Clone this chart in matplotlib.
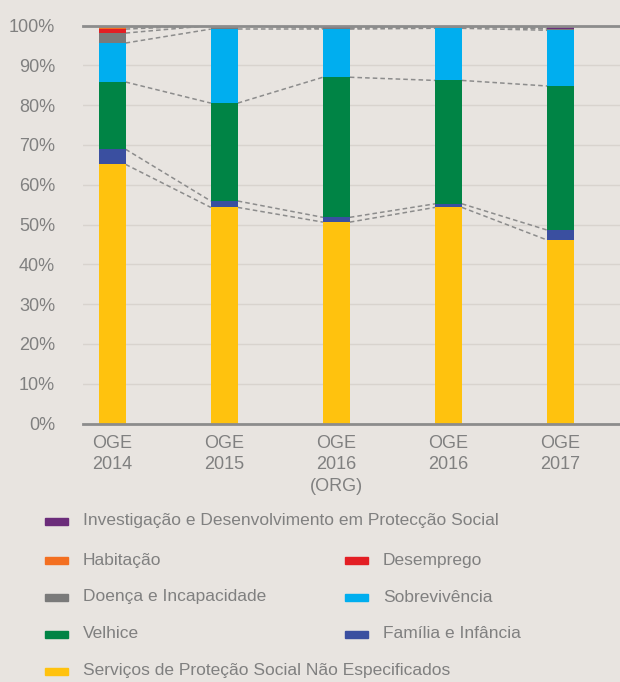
import matplotlib.pyplot as plt
import numpy as np
from matplotlib.patches import Rectangle

plt.rcParams['font.family'] = ['Liberation Sans', 'DejaVu Sans']

# categories (x axis)
anos = ['OGE\n2014', 'OGE\n2015', 'OGE\n2016\n(ORG)', 'OGE\n2016', 'OGE\n2017']

# shares in %, stacked bottom to top
servicos = [65.1, 54.3, 50.6, 54.3, 46.1]
familia = [3.8, 1.6, 1.2, 0.9, 2.5]
velhice = [16.9, 24.6, 35.2, 31.0, 36.2]
sobrevivencia = [9.8, 18.6, 12.1, 13.1, 14.0]
doenca = [2.5, 0.9, 0.3, 0.4, 0.4]
desemprego = [1.0, 0.0, 0.0, 0.3, 0.0]
habitacao = [0.6, 0.0, 0.0, 0.0, 0.0]
investigacao = [0.3, 0.0, 0.6, 0.0, 0.8]

nomes = ['Serviços de Proteção Social Não Especificados', 'Família e Infância', 'Velhice',
         'Sobrevivência', 'Doença e Incapacidade', 'Desemprego', 'Habitação',
         'Investigação e Desenvolvimento em Protecção Social']
cores = ['#FFC20E', '#3A4FA0', '#008445', '#00AEEF', '#7A7A7A', '#E31E24', '#F36F21', '#6B2C7A']
series = [servicos, familia, velhice, sobrevivencia, doenca, desemprego, habitacao, investigacao]

fundo = '#E8E4E0'
texto = '#808080'

fig = plt.figure(figsize=(6.2, 6.82), dpi=100, facecolor=fundo)
ax = fig.add_axes([83 / 620, 1 - 423.5 / 682, 537 / 620, 398 / 682])
ax.set_facecolor(fundo)

dados = np.array(series, dtype=float)
dados = dados / dados.sum(axis=0) * 100
x = np.arange(len(anos))
w = 0.24
base = np.zeros(len(anos))
for vals, cor in zip(dados, cores):
    ax.bar(x, vals, w, bottom=base, color=cor, zorder=3)
    topo = base + vals
    # series lines between bars
    for j in range(len(anos) - 1):
        ax.plot([x[j] + w / 2, x[j + 1] - w / 2], [topo[j], topo[j + 1]],
                color='#8C8C8C', ls=(0, (3, 2)), lw=1.1, zorder=2)
    base = topo

ax.set_xlim(-0.26, 4.53)
ax.set_ylim(0, 100)
ax.set_yticks(np.arange(0, 101, 10))
ax.set_yticklabels([f'{v}%' for v in range(0, 101, 10)])
ax.set_xticks(x)
ax.set_xticklabels(anos, linespacing=1.35)
ax.tick_params(axis='y', length=0, pad=20, labelsize=13, labelcolor=texto)
ax.tick_params(axis='x', length=0, pad=8, labelsize=13, labelcolor=texto)
ax.grid(axis='y', color='#D8D3CE', lw=1, zorder=0)
for s in ['left', 'right']:
    ax.spines[s].set_visible(False)
for s in ['top', 'bottom']:
    ax.spines[s].set_color('#8C8C8C')
    ax.spines[s].set_linewidth(2)
    ax.spines[s].set_zorder(4)

# legend drawn by hand
linhas = [(7, None), (6, 5), (4, 3), (2, 1), (0, None)]
ys = [521, 560, 597, 634, 671]
for (a, b), yy in zip(linhas, ys):
    for k, xm in ((a, 45), (b, 345)):
        if k is None:
            continue
        fig.patches.append(Rectangle((xm / 620, 1 - (yy + 4) / 682), 23 / 620, 7 / 682,
                                     transform=fig.transFigure, color=cores[k]))
        fig.text((xm + 38) / 620, 1 - yy / 682, nomes[k], color=texto, fontsize=12.5,
                 va='center', ha='left')

fig.savefig('out.png', dpi=100, facecolor=fundo)
